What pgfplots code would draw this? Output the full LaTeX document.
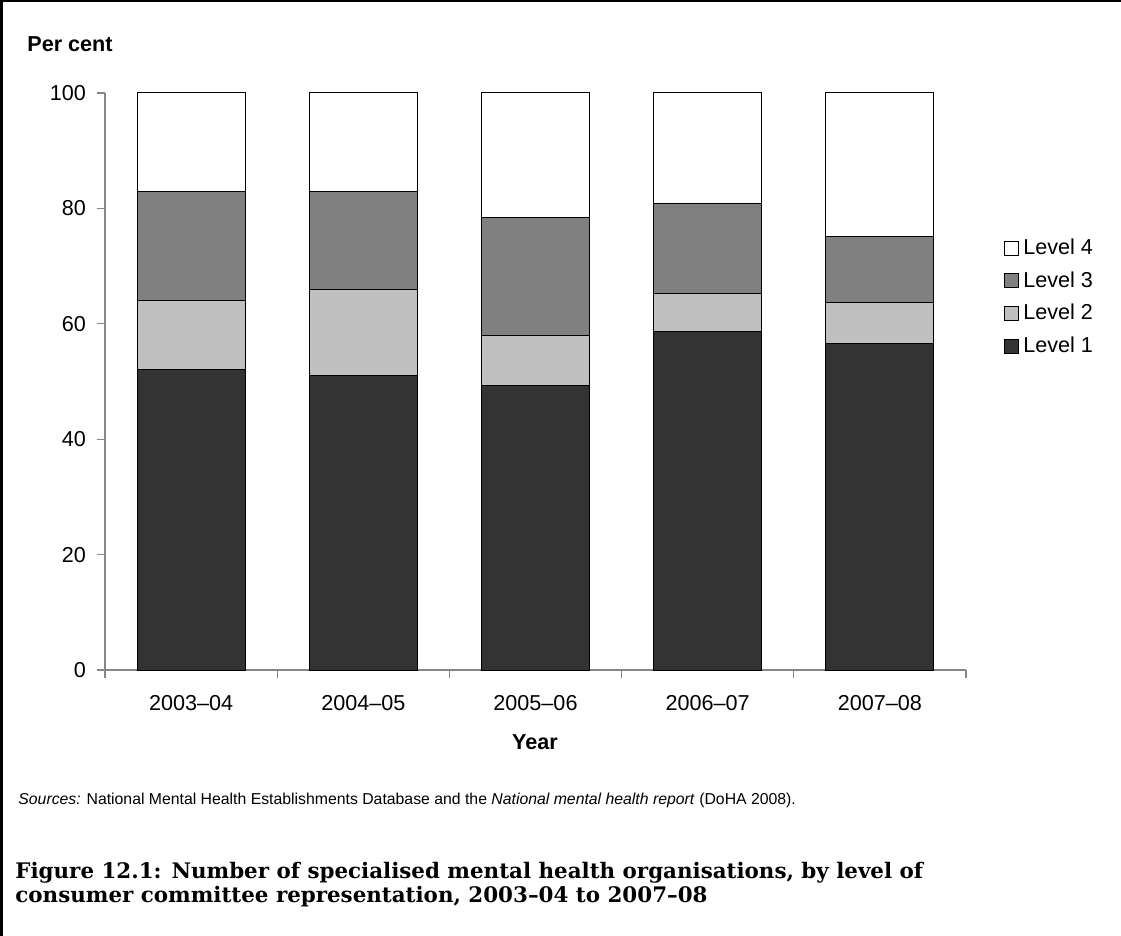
\documentclass[border=0pt]{standalone}
\usepackage{fontspec}
\setmainfont{Liberation Sans}
\newfontfamily\capfont{DejaVu Serif}
\usepackage{pgfplots}
\usepackage{pgfplotstable}
\pgfplotsset{compat=1.18}
\definecolor{lone}{HTML}{333333}
\definecolor{ltwo}{HTML}{C0C0C0}
\definecolor{lthree}{HTML}{808080}
\definecolor{axisgray}{HTML}{868686}
\pgfplotstableread{
x L1 L2 L3 L4
0 52.0 12.0 19.0 17.0
1 51.0 15.0 17.0 17.0
2 49.3 8.7 20.5 21.5
3 58.6 6.6 15.6 19.2
4 56.6 7.1 11.4 24.9
}\datatable
\pgfplotsset{sqlegend/.style={legend image code/.code={\draw[##1,line width=0.5pt] (0pt,-3.5pt) rectangle (7pt,3.5pt);}}}
\begin{document}
\begin{tikzpicture}
\useasboundingbox (0,0) rectangle (560.5pt,-468pt);
\draw[line width=1.25pt] (0.625pt,-468pt) -- (0.625pt,-0.625pt) -- (560.5pt,-0.625pt);
\begin{axis}[
  at={(52.5pt,-335pt)}, anchor=south west,
  scale only axis, width=430.5pt, height=288.5pt,
  ybar stacked, bar width=54pt,
  xmin=-0.5, xmax=4.5, ymin=0, ymax=100,
  axis x line*=bottom, axis y line*=left,
  axis line style={draw=axisgray, line width=0.6pt},
  xtick={-0.5,0.5,1.5,2.5,3.5,4.5}, x tick label as interval,
  xticklabels={2003–04,2004–05,2005–06,2006–07,2007–08},
  ytick={0,20,40,60,80,100},
  tick align=outside, major tick length=4pt,
  tick style={draw=axisgray, line width=0.6pt},
  ticklabel style={font=\fontsize{10.8}{13}\selectfont},
  xticklabel style={yshift=-5pt},
  yticklabel style={xshift=-2pt},
  /pgf/number format/assume math mode=true,
  legend style={at={(1.044,0.755)}, anchor=north west, draw=none, fill=none,
    inner sep=0pt, font=\fontsize{10.8}{13}\selectfont, row sep=3pt,
    /tikz/every even column/.append style={column sep=0pt}},
  legend cell align=left,
  reverse legend,
]
\addplot[fill=lone, draw=black, line width=0.5pt, sqlegend] table[x=x,y=L1]{\datatable};
\addplot[fill=ltwo, draw=black, line width=0.5pt, sqlegend] table[x=x,y=L2]{\datatable};
\addplot[fill=lthree, draw=black, line width=0.5pt, sqlegend] table[x=x,y=L3]{\datatable};
\addplot[fill=white, draw=black, line width=0.5pt, sqlegend] table[x=x,y=L4]{\datatable};
\legend{Level 1,Level 2,Level 3,Level 4}
\end{axis}
\node[anchor=base west, inner sep=0pt, font=\fontsize{10.8}{13}\selectfont\bfseries] at (13.5pt,-26pt) {Per cent};
\node[anchor=base, inner sep=0pt, font=\fontsize{10.8}{13}\selectfont\bfseries] at (267.5pt,-374.5pt) {Year};
\node[anchor=base west, inner sep=0pt, font=\fontsize{7.9}{9}\selectfont] at (9pt,-402.5pt) {\textit{Sources:} National Mental Health Establishments Database and the \textit{National mental health report} (DoHA 2008).};
\node[anchor=base west, inner sep=0pt, font=\fontsize{10.7}{12}\selectfont\capfont\bfseries] at (7.5pt,-439pt) {Figure 12.1: Number of specialised mental health organisations, by level of};
\node[anchor=base west, inner sep=0pt, font=\fontsize{10.7}{12}\selectfont\capfont\bfseries] at (7.5pt,-451pt) {consumer committee representation, 2003–04 to 2007–08};
\end{tikzpicture}
\end{document}
